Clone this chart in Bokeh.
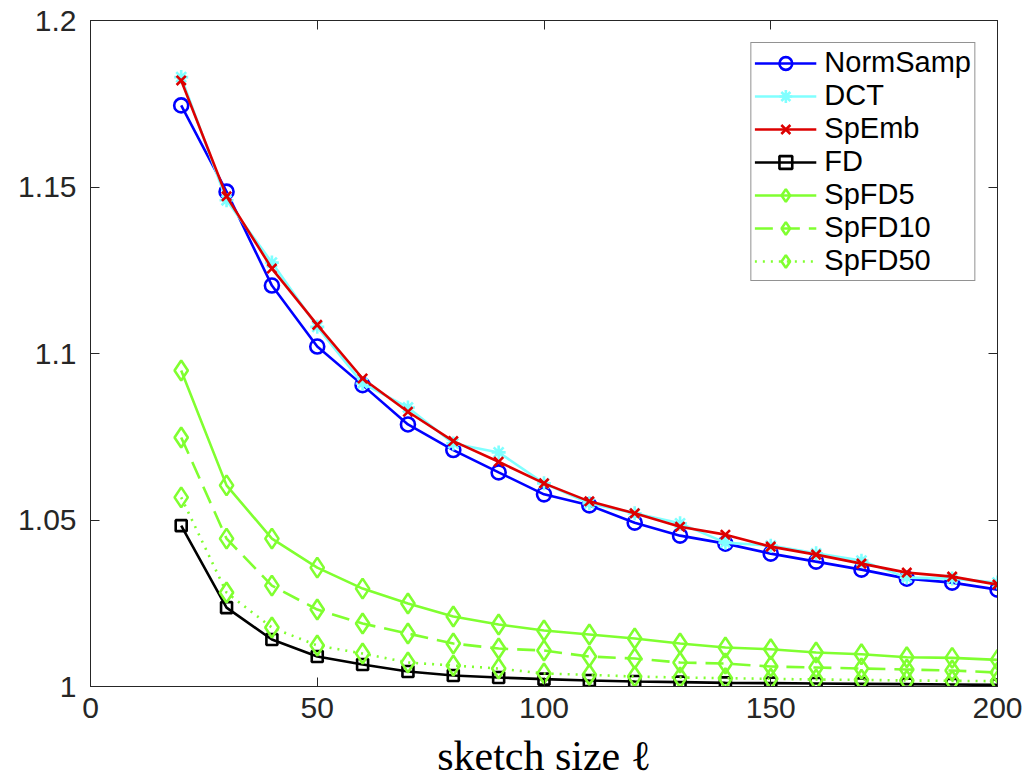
from bokeh.plotting import figure
from bokeh.models import Range1d, FixedTicker, LinearAxis, CustomJSTickFormatter
from bokeh.embed import file_html
from bokeh.resources import INLINE

# sketch sizes
ell = [20, 30, 40, 50, 60, 70, 80, 90, 100, 110, 120, 130, 140, 150, 160, 170, 180, 190, 200]

norm_samp = [1.1745, 1.1486, 1.1204, 1.1021, 1.0905, 1.0787, 1.0710, 1.0643, 1.0577, 1.0544,
             1.0492, 1.0453, 1.0429, 1.0399, 1.0375, 1.0351, 1.0324, 1.0312, 1.0291]
dct = [1.1830, 1.1460, 1.1273, 1.1080, 1.0910, 1.0838, 1.0730, 1.0703, 1.0610, 1.0550,
       1.0520, 1.0490, 1.0432, 1.0423, 1.0400, 1.0378, 1.0327, 1.0324, 1.0312]
sp_emb = [1.1820, 1.1472, 1.1255, 1.1086, 1.0925, 1.0825, 1.0737, 1.0675, 1.0610, 1.0556,
          1.0520, 1.0480, 1.0456, 1.0420, 1.0396, 1.0369, 1.0342, 1.0330, 1.0306]
fd = [1.0483, 1.0237, 1.0141, 1.0090, 1.0066, 1.0045, 1.0033, 1.0027, 1.0022, 1.0018,
      1.0015, 1.0013, 1.0011, 1.0010, 1.0009, 1.0008, 1.0007, 1.0006, 1.0005]
sp_fd5 = [1.0949, 1.0604, 1.0444, 1.0357, 1.0294, 1.0249, 1.0210, 1.0186, 1.0168, 1.0156,
          1.0144, 1.0129, 1.0117, 1.0112, 1.0102, 1.0097, 1.0088, 1.0086, 1.0080]
sp_fd10 = [1.0748, 1.0444, 1.0303, 1.0231, 1.0189, 1.0159, 1.0129, 1.0114, 1.0108, 1.0090,
           1.0084, 1.0072, 1.0069, 1.0060, 1.0057, 1.0054, 1.0051, 1.0048, 1.0042]
sp_fd50 = [1.0568, 1.0282, 1.0177, 1.0123, 1.0099, 1.0072, 1.0063, 1.0054, 1.0039, 1.0035,
           1.0030, 1.0027, 1.0025, 1.0023, 1.0021, 1.0020, 1.0018, 1.0017, 1.0016]

x_ticks = [0, 50, 100, 150, 200]
y_ticks = [1.0, 1.05, 1.1, 1.15, 1.2]
y_tick_labels = {1.0: "1", 1.05: "1.05", 1.1: "1.1", 1.15: "1.15", 1.2: "1.2"}

AX = "#262626"
GREEN = "#80ff30"

p = figure(width=1029, height=783, output_backend="svg", toolbar_location=None,
           x_range=Range1d(0, 200), y_range=Range1d(1.0, 1.2),
           min_border_left=90, min_border_right=32, min_border_top=20, min_border_bottom=97)
p.grid.visible = False
p.outline_line_color = AX
p.background_fill_color = "white"

# box axes on top and right: inward ticks, no labels
blank = CustomJSTickFormatter(code="return ''")
top_axis = LinearAxis(formatter=blank, ticker=FixedTicker(ticks=x_ticks))
right_axis = LinearAxis(formatter=blank, ticker=FixedTicker(ticks=y_ticks))
p.add_layout(right_axis, "right")
p.add_layout(top_axis, "above")

bottom_axis = p.below[0]
left_axis = p.left[0]
bottom_axis.ticker = FixedTicker(ticks=x_ticks)
left_axis.ticker = FixedTicker(ticks=y_ticks)

for ax in (bottom_axis, left_axis, top_axis, right_axis):
    ax.axis_line_color = AX
    ax.major_tick_line_color = AX
    ax.major_tick_in = 9
    ax.major_tick_out = 0
    ax.minor_tick_line_color = None
    ax.major_label_text_color = AX
    ax.major_label_text_font = "Liberation Sans"
    ax.major_label_text_font_size = "30px"

top_axis.major_label_text_font_size = "1px"
right_axis.major_label_text_font_size = "1px"
top_axis.major_label_standoff = 0
right_axis.major_label_standoff = 0

left_axis.major_label_overrides = y_tick_labels
left_axis.major_label_standoff = 14
bottom_axis.major_label_standoff = 11
bottom_axis.axis_label = "sketch size \u2113"
bottom_axis.axis_label_text_font = "Liberation Serif"
bottom_axis.axis_label_text_font_style = "normal"
bottom_axis.axis_label_text_font_size = "42px"
bottom_axis.axis_label_text_color = "black"
bottom_axis.axis_label_standoff = 12

LW = 2.6

p.line(ell, norm_samp, line_color="#0000ff", line_width=LW, legend_label="NormSamp")
p.scatter(ell, norm_samp, marker="circle", size=14, fill_color=None, line_color="#0000ff",
          line_width=LW, legend_label="NormSamp")

p.line(ell, dct, line_color="#80ffff", line_width=LW, legend_label="DCT")
p.scatter(ell, dct, marker="asterisk", size=14, line_color="#80ffff",
          line_width=LW, legend_label="DCT")

p.line(ell, sp_emb, line_color="#dd0000", line_width=LW, legend_label="SpEmb")
p.scatter(ell, sp_emb, marker="x", size=13, line_color="#dd0000",
          line_width=LW, legend_label="SpEmb")

p.line(ell, fd, line_color="black", line_width=LW, legend_label="FD")
p.scatter(ell, fd, marker="square", size=11, fill_color=None, line_color="black",
          line_width=LW, legend_label="FD")

p.line(ell, sp_fd5, line_color=GREEN, line_width=LW, legend_label="SpFD5")
p.scatter(ell, sp_fd5, marker="diamond", size=20, fill_color=None, line_color=GREEN,
          line_width=LW, legend_label="SpFD5")

p.line(ell, sp_fd10, line_color=GREEN, line_width=LW, line_dash="18 9", legend_label="SpFD10")
p.scatter(ell, sp_fd10, marker="diamond", size=20, fill_color=None, line_color=GREEN,
          line_width=LW, legend_label="SpFD10")

p.line(ell, sp_fd50, line_color=GREEN, line_width=LW, line_dash="2 6", legend_label="SpFD50")
p.scatter(ell, sp_fd50, marker="diamond", size=20, fill_color=None, line_color=GREEN,
          line_width=LW, legend_label="SpFD50")

lg = p.legend[0]
lg.location = "top_right"
lg.margin = 22
lg.padding = 3
lg.spacing = 0
lg.border_line_color = AX
lg.border_line_width = 1
lg.label_text_font = "Liberation Sans"
lg.label_text_font_size = "29px"
lg.label_text_color = "black"
lg.glyph_width = 62
lg.glyph_height = 32
lg.label_height = 32
lg.label_standoff = 8
lg.background_fill_alpha = 1.0

open("out.html", "w").write(file_html(p, INLINE))
